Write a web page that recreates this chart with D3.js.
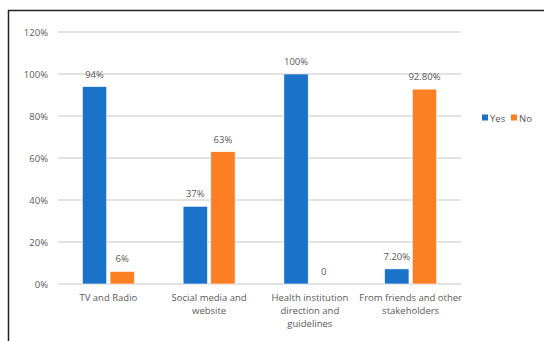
<!DOCTYPE html>
<html>
<head>
<meta charset="utf-8">
<script src="https://cdn.jsdelivr.net/npm/d3@7"></script>
<style>
  body { margin: 0; background: #fff; }
  text { font-family: "Open Sans", "Liberation Sans", sans-serif; fill: #595959; }
</style>
</head>
<body>
<div id="chart"></div>
<script>
const categories = [
    ["TV and Radio"],
    ["Social media and", "website"],
    ["Health institution", "direction and", "guidelines"],
    ["From friends and other", "stakeholders"]
];
const seriesNames = ["Yes", "No"];
const yesValues = [94, 37, 100, 7.2];
const noValues = [6, 63, 0, 92.8];
const yesLabels = ["94%", "37%", "100%", "7.20%"];
const noLabels = ["6%", "63%", "0", "92.80%"];
const yTicks = [0, 20, 40, 60, 80, 100, 120];

const width = 544, height = 341;
const margin = { left: 58, right: 83, top: 32, bottom: 57 };
const colors = { Yes: "#1a73c8", No: "#fd7f24" };

const svg = d3.select("#chart").append("svg")
    .attr("width", width)
    .attr("height", height);

// outer frame (only top and left edges visible)
svg.append("path")
    .attr("d", `M8.5,${height} V10.5 H${width}`)
    .attr("fill", "none")
    .attr("stroke", "#222")
    .attr("stroke-width", 1.5);

const x0 = d3.scaleBand()
    .domain(d3.range(categories.length))
    .range([margin.left, width - margin.right]);

const x1 = d3.scaleBand()
    .domain(seriesNames)
    .range([x0.bandwidth() / 2 - 26, x0.bandwidth() / 2 + 26])
    .paddingInner(0.12);

const y = d3.scaleLinear()
    .domain([0, 120])
    .range([height - margin.bottom, margin.top]);

// gridlines
svg.append("g")
    .selectAll("line")
    .data(yTicks)
    .enter().append("line")
    .attr("x1", margin.left)
    .attr("x2", width - margin.right)
    .attr("y1", d => y(d))
    .attr("y2", d => y(d))
    .attr("stroke", "#d9d9d9")
    .attr("stroke-width", 1.5);

// y tick labels
svg.append("g")
    .selectAll("text")
    .data(yTicks)
    .enter().append("text")
    .attr("x", 48)
    .attr("y", d => y(d) + 3.5)
    .attr("text-anchor", "end")
    .attr("font-size", 9.5)
    .text(d => d + "%");

const rows = categories.map((c, i) => ({
    i: i,
    bars: [
        { s: "Yes", v: yesValues[i], label: yesLabels[i] },
        { s: "No", v: noValues[i], label: noLabels[i] }
    ]
}));

const groups = svg.append("g")
    .selectAll("g")
    .data(rows)
    .enter().append("g")
    .attr("transform", d => `translate(${x0(d.i)},0)`);

groups.selectAll("rect")
    .data(d => d.bars.filter(b => b.v > 0))
    .enter().append("rect")
    .attr("x", d => x1(d.s))
    .attr("width", x1.bandwidth())
    .attr("y", d => y(d.v))
    .attr("height", d => y(0) - y(d.v))
    .attr("fill", d => colors[d.s])
    .attr("stroke", "#fff")
    .attr("stroke-width", 0.6);

groups.selectAll("text.val")
    .data(d => d.bars)
    .enter().append("text")
    .attr("class", "val")
    .attr("x", d => x1(d.s) + x1.bandwidth() / 2)
    .attr("y", d => y(d.v) - 9)
    .attr("text-anchor", "middle")
    .attr("font-size", 9.5)
    .text(d => d.label);

// category labels
const catLabels = svg.append("g")
    .selectAll("text")
    .data(categories)
    .enter().append("text")
    .attr("text-anchor", "middle")
    .attr("font-size", 9.5)
    .attr("x", (d, i) => x0(i) + x0.bandwidth() / 2)
    .attr("y", y(0) + 17);

catLabels.selectAll("tspan")
    .data(d => d)
    .enter().append("tspan")
    .attr("x", function() { return d3.select(this.parentNode).attr("x"); })
    .attr("dy", (d, i) => i === 0 ? 0 : 13)
    .text(d => d);

// legend
const legend = svg.append("g")
    .selectAll("g")
    .data(seriesNames)
    .enter().append("g")
    .attr("transform", (d, i) => `translate(${482 + i * 29},118)`);

legend.append("rect")
    .attr("x", 0)
    .attr("y", -3.5)
    .attr("width", 6)
    .attr("height", 6)
    .attr("fill", d => colors[d]);

legend.append("text")
    .attr("x", 8)
    .attr("y", 3.5)
    .attr("font-size", 9.5)
    .text(d => d);
</script>
</body>
</html>
